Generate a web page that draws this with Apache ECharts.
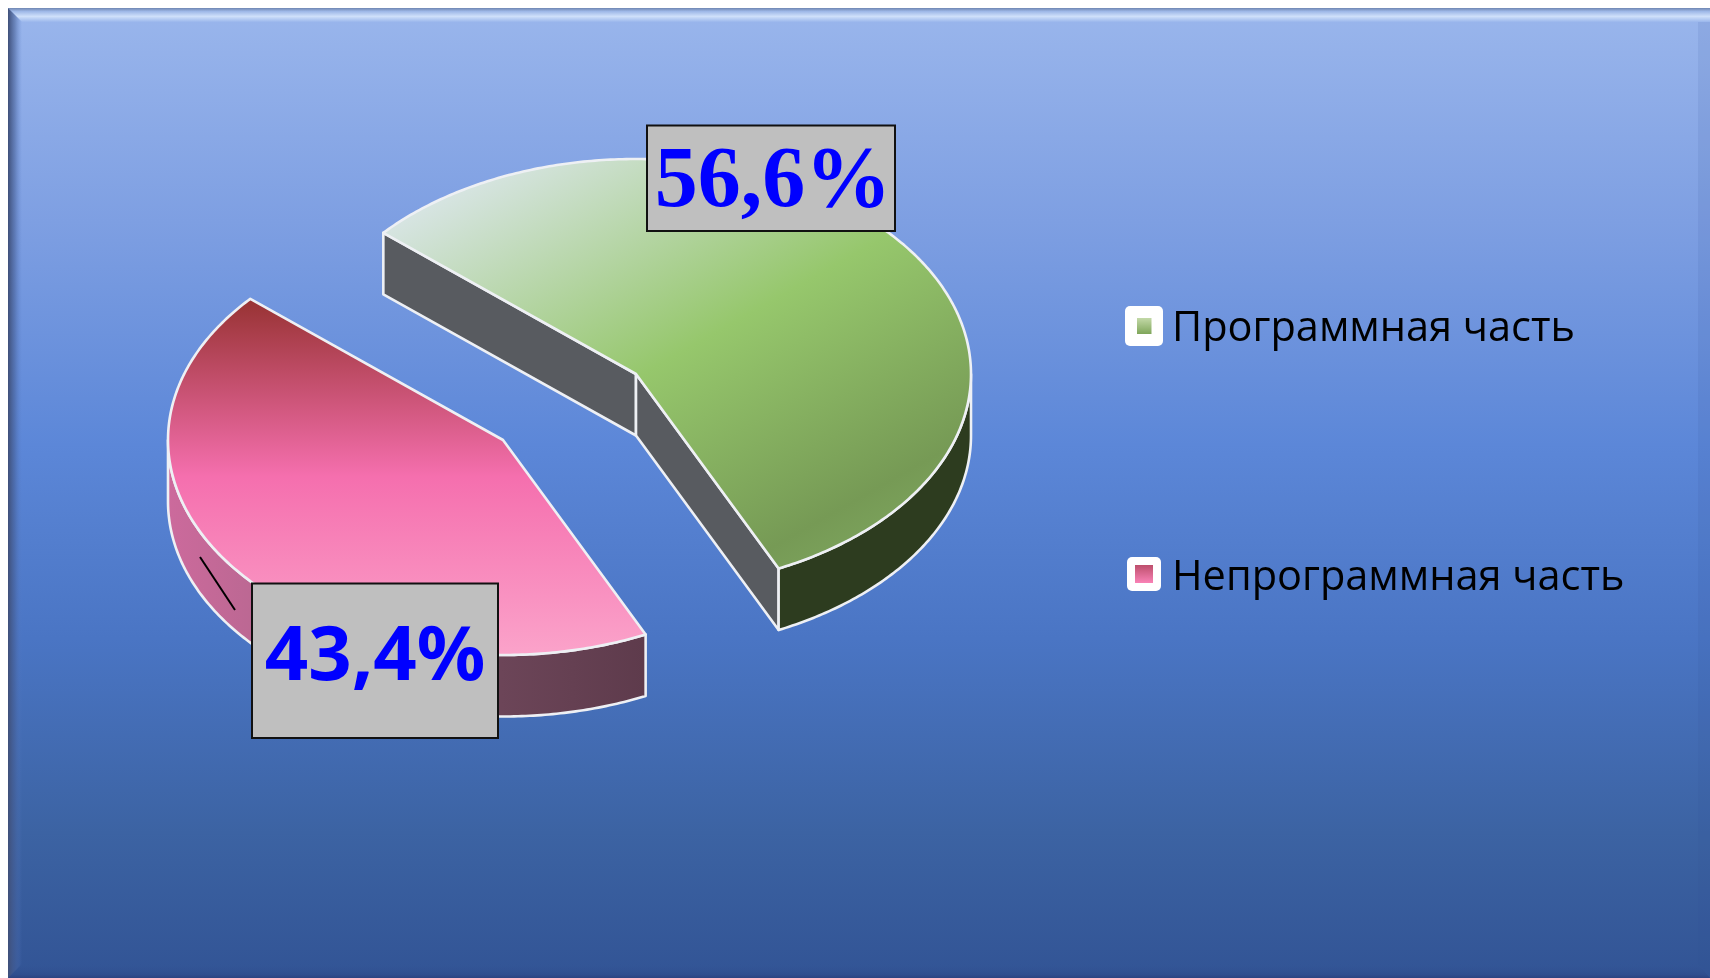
<!DOCTYPE html>
<html>
<head>
<meta charset="utf-8">
<style>html,body{margin:0;padding:0;background:#fff}#c{width:1710px;height:978px}</style>
<script src="https://cdn.jsdelivr.net/npm/echarts@6/dist/echarts.min.js"></script>
</head>
<body>
<div id="c"></div>
<script>
const categories = ['Программная часть', 'Непрограммная часть'];
const shares = [56.6, 43.4];
const shareLabels = ['56,6%', '43,4%'];

const LG = (x, y, x2, y2, stops) => new echarts.graphic.LinearGradient(x, y, x2, y2,
  stops.map(s => ({ offset: s[0], color: s[1] })), true);

const W = 1710, H = 978;
const RX = 335, RY = 215, DEPTH = 61.5, SPLIT = 64.8, EDGE = '#eef0f4';

const look = [
  { // green
    center: [636, 374],
    box: [647, 125.5, 248, 105.5],
    text: { x: 773, y: 184, font: 'bold 86px "Liberation Serif"' },
    top: LG(384, 233, 629, 668, [[0, '#d6e4e1'], [0.5, '#96c76c'], [0.93, '#769a55'], [1, '#7aa05a']]),
    outer: '#2d3c1f', cut: '#585b60',
    key: { outer: [1125, 306, 38, 40], inner: [1137, 318, 14.5, 16], text: [1172, 329],
           fill: LG(0, 318, 0, 334, [[0, '#c3d9a8'], [1, '#7fa65a']]) }
  },
  { // pink
    center: [503, 440],
    box: [252, 583.5, 246, 154.5],
    text: { x: 375, y: 658, font: 'bold 76px "Noto Sans"' },
    top: LG(0, 298, 0, 655, [[0, '#973232'], [0.5, '#f56fae'], [1, '#fba3ca']]),
    outer: LG(168, 0, 644, 0, [[0, '#cc6a9c'], [0.25, '#b5678f'], [0.7, '#6c4558'], [1, '#5e3b4c']]),
    cut: '#585b60',
    leader: [[200, 557], [235, 610]],
    key: { outer: [1127, 557, 34, 34], inner: [1135, 565, 18, 18], text: [1172, 578],
           fill: LG(0, 565, 0, 583, [[0, '#bd4f6c'], [1, '#f982b6']]) }
  }
];

function pt(c, deg, dy) {
  const t = deg * Math.PI / 180;
  return [c[0] + RX * Math.cos(t), c[1] + RY * Math.sin(t) + (dy || 0)];
}
function arc(c, from, to, dy) {
  const out = [], n = Math.max(2, Math.ceil(Math.abs(to - from) * 1.5));
  for (let i = 0; i <= n; i++) out.push(pt(c, from + (to - from) * i / n, dy));
  return out;
}
const poly = (points, fill, z2) => ({
  type: 'polygon', z2: z2 || 1, shape: { points },
  style: { fill, stroke: EDGE, lineWidth: 2.6, lineJoin: 'round' }
});
const down = p => [p[0], p[1] + DEPTH];

function renderSlice(idx) {
  return function (params, api) {
    const sweep = api.value(0) / 100 * 360;
    const L = look[idx], c = L.center, kids = [];
    const from = idx === 0 ? SPLIT - sweep : SPLIT;
    const to = idx === 0 ? SPLIT : SPLIT + sweep;
    const a = pt(c, from), b = pt(c, to);

    if (idx === 0) {
      kids.push(poly([a, c, down(c), down(a)], L.cut));
      kids.push(poly([c, b, down(b), down(c)], L.cut));
      kids.push(poly(arc(c, 0, to).concat(arc(c, to, 0, DEPTH)), L.outer));
    } else {
      kids.push(poly(arc(c, from, 180).concat(arc(c, 180, from, DEPTH)), L.outer));
    }
    kids.push(poly([c].concat(arc(c, from, to)), L.top, 2));

    if (L.leader) {
      kids.push({ type: 'line', z2: 3,
        shape: { x1: L.leader[0][0], y1: L.leader[0][1], x2: L.leader[1][0], y2: L.leader[1][1] },
        style: { stroke: '#000', lineWidth: 2 } });
    }
    const bx = L.box;
    kids.push({ type: 'rect', z2: 4, shape: { x: bx[0], y: bx[1], width: bx[2], height: bx[3] },
      style: { fill: '#bfbfbf', stroke: '#111', lineWidth: 2 } });
    kids.push({ type: 'text', z2: 5, style: {
      text: shareLabels[idx], x: L.text.x, y: L.text.y, font: L.text.font, fill: '#0000ff',
      textAlign: 'center', textVerticalAlign: 'middle' } });

    const k = L.key;
    kids.push({ type: 'rect', z2: 4, shape: { x: k.outer[0], y: k.outer[1], width: k.outer[2], height: k.outer[3], r: 5 },
      style: { fill: '#fff' } });
    kids.push({ type: 'rect', z2: 5, shape: { x: k.inner[0], y: k.inner[1], width: k.inner[2], height: k.inner[3] },
      style: { fill: k.fill } });
    kids.push({ type: 'text', z2: 5, style: {
      text: categories[idx], x: k.text[0], y: k.text[1], font: '41.5px "Open Sans"', fill: '#000',
      textAlign: 'left', textVerticalAlign: 'middle' } });
    return { type: 'group', children: kids };
  };
}

// Frame bevel of the picture
const rect = (x, y, w, h, fill) => ({ type: 'rect', silent: true, z: -1, shape: { x, y, width: w, height: h }, style: { fill } });
const frame = [
  rect(8, 8, W - 8, H - 8, LG(0, 8, 0, H, [[0, '#9ab6ec'], [0.22, '#7e9fe2'], [0.45, '#5c87d8'], [0.65, '#4a75c4'], [0.85, '#3c63a3'], [1, '#325495']])),
  { type: 'polygon', silent: true, z: -1, shape: { points: [[8, 8], [W, 8], [W, 22], [22, 22]] },
    style: { fill: LG(0, 8, 0, 22, [[0, '#6f86b2'], [0.25, '#9fb9e8'], [0.6, '#cfe0fa'], [1, '#9ab6ec']]) } },
  { type: 'polygon', silent: true, z: -1, shape: { points: [[8, 8], [22, 22], [22, H - 14], [8, H]] },
    style: { fill: LG(8, 0, 22, 0, [[0, '#3f4f78'], [0.5, 'rgba(70,95,150,0.55)'], [1, 'rgba(90,125,200,0)']]) } },
  { type: 'polygon', silent: true, z: -1, shape: { points: [[8, H], [22, H - 14], [W - 12, H - 14], [W, H]] },
    style: { fill: LG(0, H - 14, 0, H, [[0, 'rgba(50,84,149,0)'], [0.75, 'rgba(45,72,135,0.5)'], [1, '#2c4380']]) } },
  { type: 'polygon', silent: true, z: -1, shape: { points: [[W, 22], [W - 12, 22], [W - 12, H - 14], [W, H]] },
    style: { fill: 'rgba(50,80,150,0.10)' } }
];

const chart = echarts.init(document.getElementById('c'), null, { renderer: 'canvas' });
chart.setOption({
  animation: false,
  backgroundColor: '#fff',
  graphic: { elements: frame },
  series: categories.map((name, i) => ({
    type: 'custom',
    name,
    coordinateSystem: 'none',
    silent: true,
    renderItem: renderSlice(i),
    data: [[shares[i]]]
  }))
});
</script>
</body>
</html>
